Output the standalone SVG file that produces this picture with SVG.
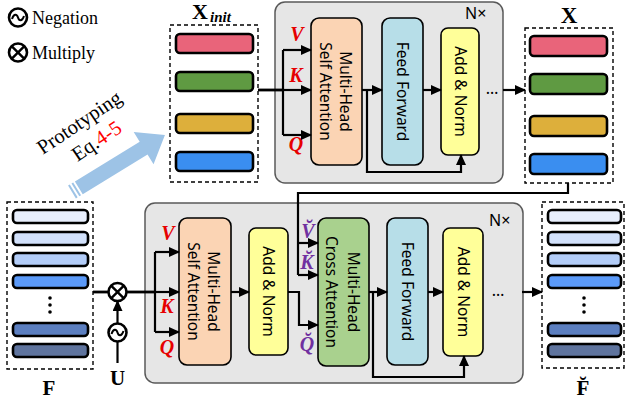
<svg xmlns="http://www.w3.org/2000/svg" width="626" height="404" viewBox="0 0 626 404">
  <defs>
    <marker id="arr" markerUnits="userSpaceOnUse" markerWidth="11" markerHeight="10" refX="10" refY="5" orient="auto">
      <path d="M0,0 L11,5 L0,10 Z" fill="#000"/>
    </marker>
  </defs>
  <style>
    .panel { fill: #E6E6E6; stroke: #595959; stroke-width: 1.5; }
    .blk { stroke: #000; stroke-width: 1.6; }
    .mhsa { fill: #FBD4B4; }
    .ff { fill: #B7DEE8; }
    .an { fill: #FFFF99; }
    .ca { fill: #A9D18E; }
    .dash { fill: none; stroke: #000; stroke-width: 1.4; stroke-dasharray: 4 3; }
    .bar { stroke: #000; stroke-width: 2.6; }
    .lbl { font-family: "Noto Sans", "DejaVu Sans", sans-serif; font-size: 15.5px; fill: #000; text-anchor: middle; }
    .nx { font-family: "Noto Sans", "DejaVu Sans", sans-serif; font-size: 16px; fill: #000; }
    .ser { font-family: "Liberation Serif", "Times New Roman", serif; fill: #000; }
    .big { font-family: "Liberation Serif", "Times New Roman", serif; font-weight: bold; fill: #000; text-anchor: middle; }
    .qkv { font-family: "Liberation Serif", "Times New Roman", serif; font-weight: bold; font-style: italic; font-size: 20px; text-anchor: middle; fill: #E60000; }
    .pqkv { font-family: "Liberation Serif", "Times New Roman", serif; font-weight: bold; font-style: italic; font-size: 20px; text-anchor: middle; fill: #7030A0; }
    .ln { fill: none; stroke: #000; stroke-width: 2.2; }
    .thick { fill: none; stroke: #000; stroke-width: 2.8; }
    .op { fill: #fff; stroke: #000; stroke-width: 2.6; }
    .dots { font-family: "Noto Sans", "DejaVu Sans", sans-serif; font-size: 16px; text-anchor: middle; fill: #000; }
  </style>

  <!-- legend -->
  <g id="legend">
    <circle class="op" cx="18" cy="17.5" r="9"/>
    <path d="M12,19 C14,13 17,14 18,17.5 C19,21 22,22 24,16" fill="none" stroke="#000" stroke-width="2"/>
    <text class="ser" x="32" y="24" font-size="18">Negation</text>
    <circle class="op" cx="18" cy="52.5" r="9"/>
    <path d="M11.6,46.1 L24.4,58.9 M24.4,46.1 L11.6,58.9" stroke="#000" stroke-width="2.4"/>
    <text class="ser" x="32" y="59" font-size="18">Multiply</text>
  </g>

  <!-- prototyping arrow -->
  <g id="prototyping">
    <g transform="translate(72,192) rotate(-31.5)" fill="#9DC3E6">
      <rect x="0" y="-7.5" width="2" height="15"/>
      <rect x="4" y="-7.5" width="2" height="15"/>
      <path d="M8,-7.5 L84,-7.5 L84,-19 L109,0 L84,19 L84,7.5 L8,7.5 Z"/>
    </g>
    <g transform="translate(83,128) rotate(-34)">
      <text class="ser" x="0" y="0" font-size="20.5" text-anchor="middle">Prototyping</text>
      <text class="ser" x="4" y="25" font-size="20.5" text-anchor="middle">Eq.<tspan fill="#FF0000">4-5</tspan></text>
    </g>
  </g>

  <!-- panels -->
  <rect class="panel" x="275" y="2" width="228" height="181" rx="10"/>
  <text class="nx" x="465" y="19">N×</text>
  <rect class="panel" x="145" y="203" width="378" height="180" rx="10"/>
  <text class="nx" x="489" y="226">N×</text>

  <!-- X_init tokens -->
  <g id="x-init">
    <text class="big" x="200" y="19" font-size="22">X</text>
    <text class="ser" x="210" y="22" font-size="15" font-weight="bold" font-style="italic">init</text>
    <rect class="dash" x="170" y="25" width="88" height="157"/>
    <rect class="bar" x="176" y="34" width="77" height="19" rx="4" fill="#E9647A"/>
    <rect class="bar" x="176" y="72" width="77" height="19" rx="4" fill="#5F9A42"/>
    <rect class="bar" x="176" y="114" width="77" height="19" rx="4" fill="#DDAF3B"/>
    <rect class="bar" x="176" y="152" width="77" height="19" rx="4" fill="#3A8EF0"/>
  </g>

  <!-- X tokens -->
  <g id="x-out">
    <text class="big" x="569" y="23" font-size="23">X</text>
    <rect class="dash" x="525" y="28" width="88" height="155"/>
    <rect class="bar" x="530" y="36" width="77" height="20" rx="4" fill="#E9647A"/>
    <rect class="bar" x="530" y="74" width="77" height="20" rx="4" fill="#5F9A42"/>
    <rect class="bar" x="530" y="116" width="77" height="20" rx="4" fill="#DDAF3B"/>
    <rect class="bar" x="530" y="154" width="77" height="20" rx="4" fill="#3A8EF0"/>
  </g>

  <!-- F tokens -->
  <g id="f-in">
    <rect class="dash" x="7" y="202" width="86" height="167"/>
    <rect class="bar" x="13" y="210" width="75" height="13" rx="4" fill="#E8EFFD"/>
    <rect class="bar" x="13" y="232" width="75" height="13" rx="4" fill="#D2E1FB"/>
    <rect class="bar" x="13" y="253" width="75" height="13" rx="4" fill="#B3CDF8"/>
    <rect class="bar" x="13" y="275" width="75" height="13" rx="4" fill="#5B9AF9"/>
    <circle cx="50" cy="298" r="1.8"/><circle cx="50" cy="305" r="1.8"/><circle cx="50" cy="312" r="1.8"/>
    <rect class="bar" x="13" y="323" width="75" height="13" rx="4" fill="#5C7FC0"/>
    <rect class="bar" x="13" y="344" width="75" height="13" rx="4" fill="#5F749E"/>
    <text class="big" x="49" y="395" font-size="21">F</text>
  </g>

  <!-- F-breve tokens -->
  <g id="f-out">
    <rect class="dash" x="542" y="202" width="82" height="166"/>
    <rect class="bar" x="548" y="210" width="73" height="13" rx="4" fill="#E8EFFD"/>
    <rect class="bar" x="548" y="232" width="73" height="13" rx="4" fill="#D2E1FB"/>
    <rect class="bar" x="548" y="253" width="73" height="13" rx="4" fill="#B3CDF8"/>
    <rect class="bar" x="548" y="275" width="73" height="13" rx="4" fill="#5B9AF9"/>
    <circle cx="584" cy="298" r="1.8"/><circle cx="584" cy="305" r="1.8"/><circle cx="584" cy="312" r="1.8"/>
    <rect class="bar" x="548" y="323" width="73" height="13" rx="4" fill="#5C7FC0"/>
    <rect class="bar" x="548" y="344" width="73" height="13" rx="4" fill="#5F749E"/>
    <text class="big" x="583" y="395" font-size="21">F̆</text>
  </g>

  <!-- encoder blocks (top) -->
  <g id="t-mhsa">
    <rect class="blk mhsa" x="311" y="18" width="51" height="147" rx="8"/>
    <g transform="translate(336.5,91.5) rotate(90)">
      <text class="lbl" x="0" y="-3">Multi-Head</text>
      <text class="lbl" x="0" y="17">Self Attention</text>
    </g>
  </g>
  <g id="t-ff">
    <rect class="blk ff" x="382" y="18" width="41" height="147" rx="8"/>
    <text class="lbl" transform="translate(402.5,91.5) rotate(90)" x="0" y="5.5">Feed Forward</text>
  </g>
  <g id="t-an">
    <rect class="blk an" x="441" y="28" width="38" height="127" rx="7"/>
    <text class="lbl" transform="translate(460,91.5) rotate(90)" x="0" y="5.5">Add &amp; Norm</text>
  </g>

  <!-- decoder blocks (bottom) -->
  <g id="b-mhsa">
    <rect class="blk mhsa" x="179" y="218" width="52" height="147" rx="8"/>
    <g transform="translate(205,291.5) rotate(90)">
      <text class="lbl" x="0" y="-3">Multi-Head</text>
      <text class="lbl" x="0" y="17">Self Attention</text>
    </g>
  </g>
  <g id="b-an1">
    <rect class="blk an" x="249" y="228" width="39" height="127" rx="7"/>
    <text class="lbl" transform="translate(268.5,291.5) rotate(90)" x="0" y="5.5">Add &amp; Norm</text>
  </g>
  <g id="b-mhca">
    <rect class="blk ca" x="318" y="218" width="51" height="148" rx="8"/>
    <g transform="translate(343.5,292) rotate(90)">
      <text class="lbl" x="0" y="-4">Multi-Head</text>
      <text class="lbl" x="0" y="18">Cross Attention</text>
    </g>
  </g>
  <g id="b-ff">
    <rect class="blk ff" x="387" y="218" width="41" height="147" rx="8"/>
    <text class="lbl" transform="translate(407.5,291.5) rotate(90)" x="0" y="5.5">Feed Forward</text>
  </g>
  <g id="b-an2">
    <rect class="blk an" x="443" y="228" width="40" height="128" rx="7"/>
    <text class="lbl" transform="translate(463,292) rotate(90)" x="0" y="5.5">Add &amp; Norm</text>
  </g>

  <!-- operators -->
  <g id="mul">
    <circle class="op" cx="117.5" cy="292" r="9"/>
    <path d="M111.1,285.6 L123.9,298.4 M123.9,285.6 L111.1,298.4" stroke="#000" stroke-width="2.4"/>
  </g>
  <g id="neg">
    <circle class="op" cx="117.5" cy="332.5" r="9"/>
    <path d="M111.5,334 C113.5,328 116.5,329 117.5,332.5 C118.5,336 121.5,337 123.5,331" fill="none" stroke="#000" stroke-width="2"/>
  </g>
  <text class="big" x="117.5" y="385" font-size="21">U</text>

  <!-- labels Q K V -->
  <text class="qkv" x="297" y="41">V</text>
  <text class="qkv" x="296" y="82">K</text>
  <text class="qkv" x="296" y="151">Q</text>
  <text class="qkv" x="168" y="240">V</text>
  <text class="qkv" x="167" y="313">K</text>
  <text class="qkv" x="167" y="354">Q</text>
  <text class="pqkv" x="308" y="238">V̆</text>
  <text class="pqkv" x="307" y="269">K̆</text>
  <text class="pqkv" x="307" y="351">Q̆</text>

  <!-- connectors -->
  <g id="connectors">
    <!-- top encoder -->
    <path class="thick" d="M258,90 L283,90"/>
    <path class="ln" d="M283,50 L283,135"/>
    <path class="ln" d="M283,50 L311,50" marker-end="url(#arr)"/>
    <path class="ln" d="M283,90 L311,90" marker-end="url(#arr)"/>
    <path class="ln" d="M283,135 L311,135" marker-end="url(#arr)"/>
    <path class="ln" d="M362,90 L382,90" marker-end="url(#arr)"/>
    <path class="ln" d="M367,90 L367,172 L461,172 L461,155" marker-end="url(#arr)"/>
    <path class="ln" d="M423,90 L441,90" marker-end="url(#arr)"/>
    <text class="dots" x="492" y="94">…</text>
    <path class="ln" d="M503,90 L525,90" marker-end="url(#arr)"/>

    <!-- X to cross attention -->
    <path class="ln" d="M568,183 L568,193 L298,193 L298,275"/>
    <path class="ln" d="M298,243 L318,243" marker-end="url(#arr)"/>
    <path class="ln" d="M298,275 L318,275" marker-end="url(#arr)"/>

    <!-- bottom decoder -->
    <path class="thick" d="M93,292 L108.5,292"/>
    <path class="ln" d="M117.5,341.5 L117.5,363"/>
    <path class="ln" d="M117.5,323.5 L117.5,301" marker-end="url(#arr)"/>
    <path class="thick" d="M126.5,292 L155,292"/>
    <path class="ln" d="M155,252 L155,332"/>
    <path class="ln" d="M155,252 L179,252" marker-end="url(#arr)"/>
    <path class="ln" d="M155,292 L179,292" marker-end="url(#arr)"/>
    <path class="ln" d="M155,332 L179,332" marker-end="url(#arr)"/>
    <path class="ln" d="M231,292 L249,292" marker-end="url(#arr)"/>
    <path class="ln" d="M288,292 L299,292 L299,325 L318,325" marker-end="url(#arr)"/>
    <path class="ln" d="M369,292 L387,292" marker-end="url(#arr)"/>
    <path class="ln" d="M373,292 L373,377 L464,377 L464,356" marker-end="url(#arr)"/>
    <path class="ln" d="M428,292 L443,292" marker-end="url(#arr)"/>
    <text class="dots" x="498" y="296">…</text>
    <path class="ln" d="M522,292 L542,292" marker-end="url(#arr)"/>
  </g>
</svg>
